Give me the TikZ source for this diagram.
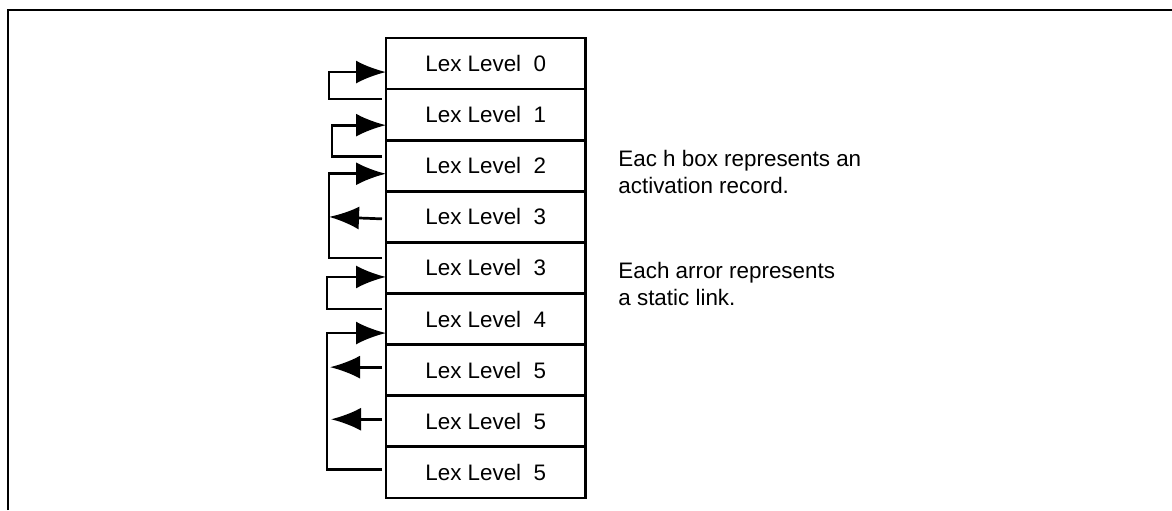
\documentclass[tikz,border=0pt]{standalone}
\usepackage{fontspec}
\setmainfont{Liberation Sans}
\usetikzlibrary{arrows.meta,calc}

\begin{document}
\begin{tikzpicture}[x=0.5pt,y=-0.5pt,
    rec/.style={draw,line width=1.35pt,minimum width=99.75pt,minimum height=25.55pt,
        inner sep=0pt,outer sep=0pt,font=\fontsize{11.2}{13.5}\selectfont},
    link/.style={line width=1.35pt,-{Latex[length=15pt,width=11.5pt]}},
    note/.style={anchor=north west,inner sep=0pt,align=left,font=\fontsize{11.2}{13.5}\selectfont}]
\useasboundingbox (0,0) rectangle (1172,510);
\draw[line width=1pt] (8,510) -- (8,9.5) -- (1172,9.5);

\foreach \lv [count=\i from 0] in {0,1,2,3,3,4,5,5,5}
    \node[rec] (r\i) at (485.75,63.55+51.1*\i) {Lex Level~~\lv};

\draw[link] ($(r1.north west)+(-4,10)$) -- ++(-53,0) |- ($(r0.west)+(0,8.5)$);
\draw[link] ($(r2.north west)+(-4,16)$) -- ++(-50,0) |- ($(r1.west)+(0,10.5)$);
\draw[link] ($(r4.north west)+(-4,15.5)$) -- ++(-53,0) coordinate (c2) |- ($(r2.west)+(0,8)$);
\draw[link] ($(r3.west)+(-4,2)$) -- (c2 |- r3.west);
\draw[link] ($(r5.north west)+(-4,15.5)$) -- ++(-55,0) |- ($(r4.west)+(0,9)$);
\draw[link] ($(r8.north west)+(-4,23)$) -- ++(-55,0) coordinate (c5) |- ($(r5.west)+(0,14)$);
\draw[link] ($(r6.west)+(-4,-3)$) -- ($(c5 |- r6.west)+(3,-3)$);
\draw[link] ($(r7.west)+(-4,-2)$) -- ($(c5 |- r7.west)+(4,-2)$);

\node[note] (boxnote) at (618,149.5) {Eac h box represents an\\activation record.};
\node[note] (linknote) at (618,261.5) {Each arror represents\\a static link.};
\end{tikzpicture}
\end{document}
